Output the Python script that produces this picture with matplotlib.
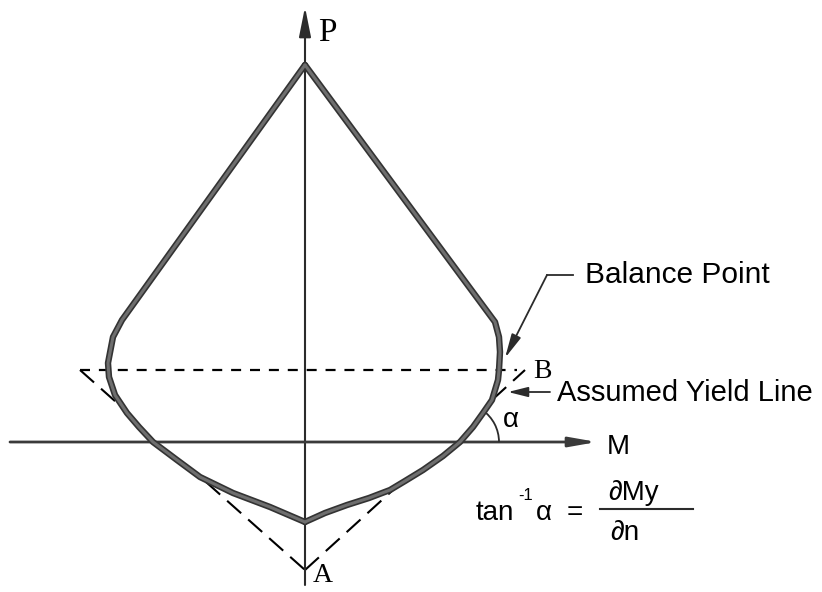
import matplotlib
matplotlib.use("Agg")
import matplotlib.pyplot as plt
from matplotlib.patches import Arc

# interaction curve, M (right) / P (up) measured from the axis origin
right_M = [0, 190, 194, 195, 194, 193, 187, 178, 168, 155, 138, 118, 100, 85, 64, 42, 20, 0]
right_P = [377, 120, 105, 90, 72, 62, 42, 29, 15, 0, -14, -28, -39, -48, -56, -63, -71, -80]
left_M = [0, -183, -192, -197, -196, -190, -178, -166, -152, -128, -105, -72, -35, 0]
left_P = [377, 122, 105, 79, 65, 47, 29, 15, 0, -18, -35, -51, -65, -80]

# assumed yield line: left corner -> A -> B, plus the horizontal through B
yield_M = [-225, 0, 220]
yield_P = [72, -128, 72]
balance_level = 72

# crossing of the curve with the M axis, where alpha is measured
alpha_M, alpha_P = 155, 0
alpha_deg = 55

ink = "#2b2b2b"
sans = "Liberation Sans"
serif = "Liberation Serif"

fig = plt.figure(figsize=(8.22, 5.92), dpi=100)
ax = fig.add_axes([0, 0, 1, 1])
ax.set_xlim(-305, 517)
ax.set_ylim(-150, 442)
ax.axis("off")

# dashed yield line (hidden where it runs inside the curve)
ax.plot(yield_M[:2], yield_P[:2], color="black", lw=1.5, ls=(0, (9, 4.5)), zorder=1)
ax.plot(yield_M[1:], yield_P[1:], color="black", lw=1.5, ls=(0, (9, 4.5)), zorder=1)
curve_M = right_M + left_M[::-1]
curve_P = right_P + left_P[::-1]
ax.fill(curve_M, curve_P, color="white", zorder=2)
ax.plot([yield_M[0], yield_M[2] - 8], [balance_level, balance_level],
        color="black", lw=1.6, ls=(0, (4.5, 4)), zorder=3)

# axes with arrow heads
ax.annotate("", xy=(0, 435), xytext=(0, -143),
            arrowprops=dict(arrowstyle="-|>,head_length=1.8,head_width=0.36",
                            mutation_scale=10, lw=1.5, color=ink,
                            shrinkA=0, shrinkB=0), zorder=3)
ax.annotate("", xy=(292, 0), xytext=(-295, 0),
            arrowprops=dict(arrowstyle="-|>,head_length=1.65,head_width=0.29",
                            mutation_scale=10, lw=2.0, color="#3a3a3a",
                            shrinkA=0, shrinkB=0), zorder=3)

# the interaction curve itself
for M, P in [(right_M, right_P), (left_M, left_P)]:
    ax.plot(M, P, color="#333333", lw=4.6, solid_joinstyle="round",
            solid_capstyle="round", zorder=4)
    ax.plot(M, P, color="#6e6e6e", lw=2.2, solid_joinstyle="round",
            solid_capstyle="round", zorder=5)

# angle alpha
ax.add_patch(Arc((alpha_M, alpha_P), 78, 78, theta1=0, theta2=alpha_deg,
                 color=ink, lw=1.3, zorder=3))
ax.text(206, 22, "α", fontsize=20, family=sans, ha="center", va="center")

# leaders
ax.plot([268, 242], [167, 167], color=ink, lw=1.3)
ax.annotate("", xy=(200, 84), xytext=(242, 167),
            arrowprops=dict(arrowstyle="-|>,head_length=1.45,head_width=0.3",
                            mutation_scale=10, lw=1.3, color=ink,
                            shrinkA=0, shrinkB=0))
ax.annotate("", xy=(203, 50), xytext=(245, 50),
            arrowprops=dict(arrowstyle="-|>,head_length=1.2,head_width=0.3",
                            mutation_scale=10, lw=1.3, color=ink,
                            shrinkA=0, shrinkB=0))

# labels
ax.text(13, 409, "P", fontsize=24, family=serif, ha="left", va="center")
ax.text(8, -134, "A", fontsize=20, family=serif, ha="left", va="center")
ax.text(228, 71, "B", fontsize=20, family=serif, ha="left", va="center")
ax.text(302, -5, "M", fontsize=20, family=sans, ha="left", va="center")
ax.text(280, 167, "Balance Point", fontsize=21.5, family=sans, ha="left", va="center")
ax.text(252, 49, "Assumed Yield Line", fontsize=21, family=sans, ha="left", va="center")

# tan^-1 alpha = dMy / dn
ax.text(171, -78, "tan", fontsize=20, family=sans, ha="left", va="baseline")
ax.text(213, -58, "-1", fontsize=12, family=sans, ha="left", va="baseline")
ax.text(231, -78, "α", fontsize=20, family=sans, ha="left", va="baseline")
ax.text(262, -78, "=", fontsize=20, family=sans, ha="left", va="baseline")
ax.plot([295, 388], [-67, -67], color=ink, lw=1.5)
ax.text(303, -58, "∂My", fontsize=20, family=sans, ha="left", va="baseline")
ax.text(305, -98, "∂n", fontsize=20, family=sans, ha="left", va="baseline")

fig.savefig("out.png", dpi=100, facecolor="white")
